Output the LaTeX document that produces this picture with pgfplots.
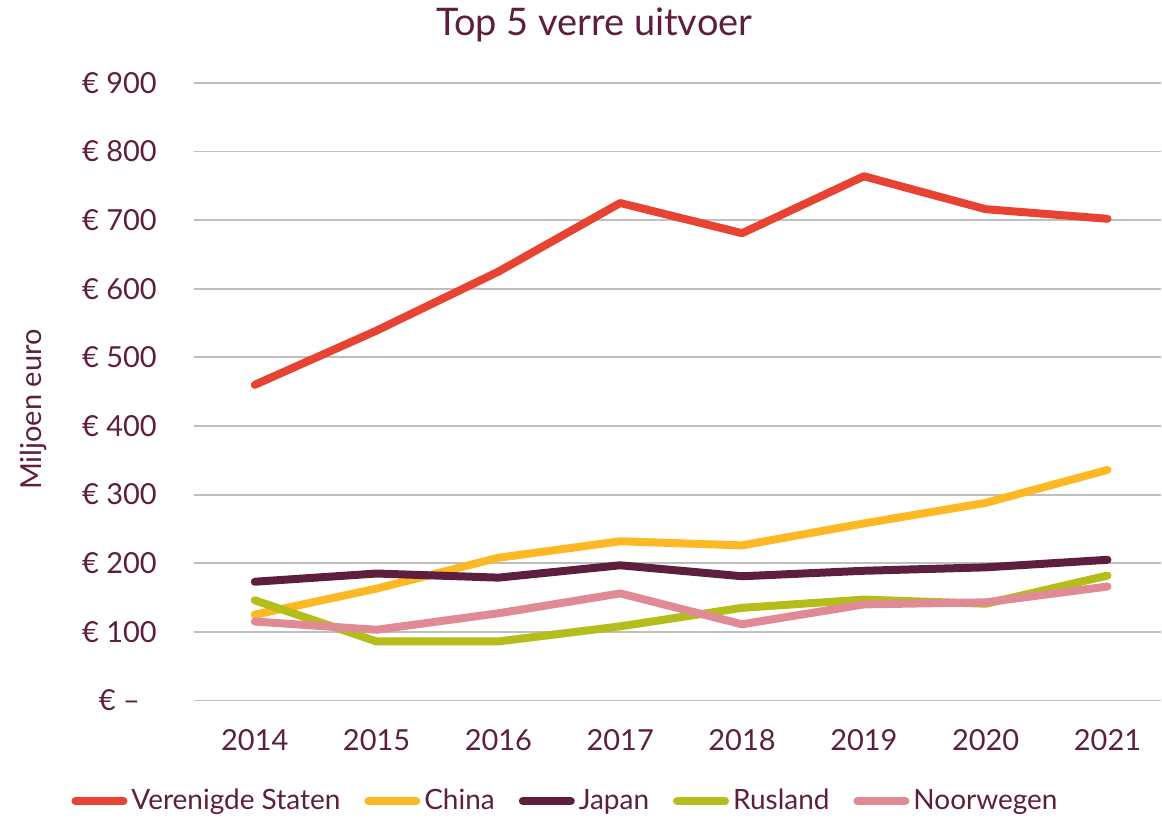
\documentclass[border=0pt]{standalone}
\usepackage{pgfplots}
\pgfplotsset{compat=1.18}
\usepackage{fontspec}
\setmainfont{Lato}
\definecolor{txt}{HTML}{5E1F3F}
\definecolor{cUS}{HTML}{E84332}
\definecolor{cCN}{HTML}{FDB924}
\definecolor{cJP}{HTML}{5E1F3F}
\definecolor{cRU}{HTML}{B5BD1A}
\definecolor{cNO}{HTML}{E08A96}
\definecolor{gridc}{HTML}{BFBFBF}
\begin{document}
\begin{tikzpicture}
\begin{axis}[
  scale only axis,
  width=484pt, height=309pt,
  xmin=-0.5, xmax=7.44,
  ymin=0, ymax=900,
  xtick={0,1,2,3,4,5,6,7},
  xticklabels={2014,2015,2016,2017,2018,2019,2020,2021},
  ytick={0,100,200,300,400,500,600,700,800,900},
  yticklabels={€ –\hphantom{0},€ 100,€ 200,€ 300,€ 400,€ 500,€ 600,€ 700,€ 800,€ 900},
  ymajorgrids, xmajorgrids=false, major grid style={draw=gridc, line width=0.9pt},
  axis line style={draw=none},
  tick style={draw=none},
  ticklabel style={font=\fontsize{14.5}{17}\selectfont, text=txt},
  yticklabel style={xshift=-15pt},
  xticklabel style={yshift=-11pt},
  clip=false,
  legend columns=5,
  legend style={at={(rel axis cs:0.3853,-0.163)}, anchor=center, draw=none, fill=none,
    font=\fontsize{14}{17}\selectfont, text=txt,
    /tikz/every even column/.append style={column sep=10pt},
    inner sep=0pt},
  legend image code/.code={\draw[#1, line cap=round] (0pt,0pt) -- (24pt,0pt);},
  every axis plot/.append style={line width=4pt, line join=round, line cap=round},
]
\addplot[cUS] coordinates {(0,460) (1,539) (2,625) (3,725) (4,681) (5,764) (6,716) (7,702)};
\addlegendentry{Verenigde Staten}
\addplot[cCN] coordinates {(0,125) (1,163) (2,208) (3,232) (4,226) (5,258) (6,288) (7,336)};
\addlegendentry{China}
\addplot[cJP] coordinates {(0,173) (1,185) (2,179) (3,197) (4,181) (5,189) (6,194) (7,205)};
\addlegendentry{Japan}
\addplot[cRU] coordinates {(0,146) (1,86) (2,86) (3,108) (4,135) (5,147) (6,141) (7,182)};
\addlegendentry{Rusland}
\addplot[cNO] coordinates {(0,115) (1,103) (2,127) (3,156) (4,111) (5,140) (6,143) (7,166)};
\addlegendentry{Noorwegen}
\node[text=txt, font=\fontsize{19}{22}\selectfont] at (rel axis cs:0.414,1.094) {Top 5 verre uitvoer};
\node[text=txt, font=\fontsize{14.5}{16}\selectfont, rotate=90] at (rel axis cs:-0.166,0.471) {Miljoen euro};
\end{axis}
\path (current axis.south west) ++(-97pt,-58.5pt) rectangle ++(581pt,409pt);
\end{tikzpicture}
\end{document}
